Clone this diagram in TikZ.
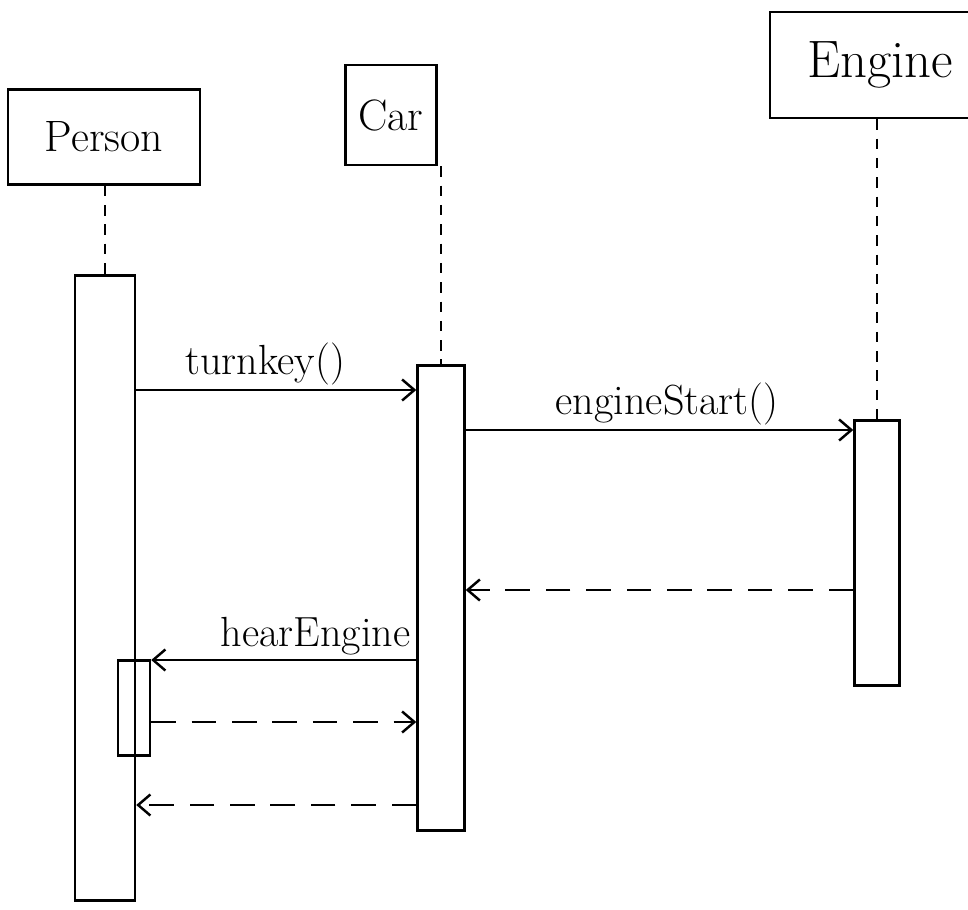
\documentclass[tikz,border=0pt]{standalone}
\usepackage{tikz}
\usetikzlibrary{arrows.meta}

\begin{document}
\begin{tikzpicture}[x=0.02cm, y=-0.02cm, line width=1.4pt,
  >={Straight Barb[length=7pt,width=12pt]},
  head/.style={draw, rectangle, font=\fontsize{25}{30}\selectfont},
  bar/.style={draw, rectangle, inner sep=0pt},
  life/.style={line width=0.6pt, dash pattern=on 6pt off 5pt},
  msg/.style={->},
  ret/.style={->, dash pattern=on 14pt off 9pt},
  lbl/.style={font=\fontsize{24}{28}\selectfont, inner sep=2pt}]
\useasboundingbox (0,0) rectangle (968,910);
\clip (0,0) rectangle (968,910);

% heads of the lifelines
\node [head, minimum width=3.84cm, minimum height=1.9cm] (person) at (104,137) {Person};
\node [head, minimum width=1.82cm, minimum height=2.0cm] (car) at (391,115) {Car};
\node [head, minimum width=4.4cm, minimum height=2.12cm, font=\fontsize{30}{34}\selectfont] (engine) at (880,65) {Engine};

% activation bars
\node [bar, minimum width=1.2cm, minimum height=12.5cm] (pbar) at (105,588) {};
\node [bar, minimum width=0.94cm, minimum height=9.3cm] (cbar) at (441,598) {};
\node [bar, minimum width=0.9cm, minimum height=5.3cm] (ebar) at (877,553) {};
\node [bar, minimum width=0.64cm, minimum height=1.9cm] (pnest) at (134,708) {};

% lifelines
\draw[life] (pbar.north |- person.south) -- (pbar.north);
\draw[life] (cbar.north |- car.south) -- (cbar.north);
\draw[life] (ebar.north |- engine.south) -- (ebar.north);

% message heights
\coordinate (m1) at (0,390);
\coordinate (m2) at (0,430);
\coordinate (m3) at (0,590);
\coordinate (m4) at (0,660);
\coordinate (m5) at (0,722);
\coordinate (m6) at (0,805);

\draw[msg] (pbar.east |- m1) -- node[lbl, above, pos=0.46] {turnkey()} (cbar.west |- m1);
\draw[msg] (cbar.east |- m2) -- node[lbl, above, pos=0.52] {engineStart()} (ebar.west |- m2);
\draw[ret] (ebar.west |- m3) -- (cbar.east |- m3);
\draw[msg] (cbar.west |- m4) -- node[lbl, above, pos=0.38] {hearEngine} (pnest.east |- m4);
\draw[ret] (pnest.east |- m5) -- (cbar.west |- m5);
\draw[ret] (cbar.west |- m6) -- (pbar.east |- m6);

\end{tikzpicture}
\end{document}
